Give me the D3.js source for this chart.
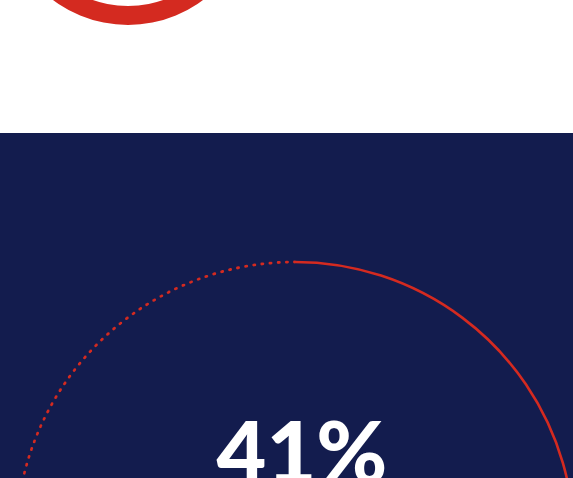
<!DOCTYPE html>
<html>
<head>
<meta charset="utf-8">
<script src="https://cdn.jsdelivr.net/npm/d3@7"></script>
<style>
  html, body { margin: 0; padding: 0; background: #fff; overflow: hidden; }
</style>
</head>
<body>
<div id="chart"></div>
<script>
// Données
const shares = [41];          // part mise en avant (%)
const total = [100];
const labels = ["41%"];
const topRing = [100];        // anneau du haut (visible seulement en partie)

const width = 573;
const height = 478;
const red = "#d42a20";
const navy = "#131c4e";

const svg = d3.select("#chart")
    .append("svg")
    .attr("width", width)
    .attr("height", height)
    .attr("viewBox", [0, 0, width, height]);

// Fond bleu nuit
svg.append("rect")
    .attr("x", 0)
    .attr("y", 133)
    .attr("width", width)
    .attr("height", height - 133)
    .attr("fill", navy);

const angle = d3.scaleLinear()
    .domain([0, total[0]])
    .range([0, 2 * Math.PI]);

// Anneau rouge du haut (coupé par le bord)
const ringArc = d3.arc()
    .innerRadius(106)
    .outerRadius(125);

svg.append("path")
    .attr("transform", "translate(128,-100)")
    .attr("d", ringArc({ startAngle: 0, endAngle: angle(topRing[0]) }))
    .attr("fill", red);

// Grand cercle : arc plein pour la part, pointillé pour le reste
const cx = 295, cy = 541, r = 279;
const lineArc = d3.arc()
    .innerRadius(r)
    .outerRadius(r);

const g = svg.append("g")
    .attr("transform", `translate(${cx},${cy})`);

g.append("path")
    .attr("d", lineArc({ startAngle: angle(shares[0]), endAngle: angle(total[0]) }))
    .attr("fill", "none")
    .attr("stroke", red)
    .attr("stroke-width", 2.8)
    .attr("stroke-linecap", "round")
    .attr("stroke-dasharray", "0 8.2");

g.append("path")
    .attr("d", lineArc({ startAngle: 0, endAngle: angle(shares[0]) }))
    .attr("fill", "none")
    .attr("stroke", red)
    .attr("stroke-width", 2.6);

// Valeur
svg.append("text")
    .attr("x", 302)
    .attr("y", 483)
    .attr("text-anchor", "middle")
    .attr("fill", "#fff")
    .attr("font-family", "Lato, 'Open Sans', sans-serif")
    .attr("font-weight", 900)
    .attr("font-size", 86)
    .text(labels[0]);
</script>
</body>
</html>
